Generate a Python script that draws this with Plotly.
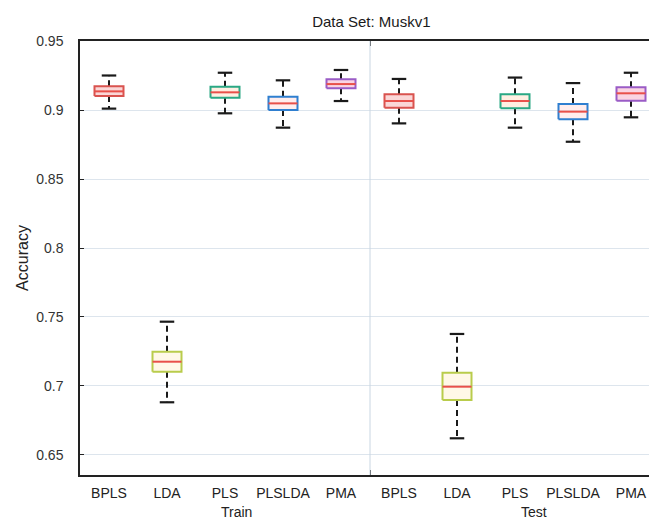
import plotly.graph_objects as go

methods = ["BPLS", "LDA", "PLS", "PLSLDA", "PMA"]
groups = ["Train", "Test"]

# box statistics (upper cap, q3, median, q1, lower cap)
train_upper = [0.9250, 0.7466, 0.9270, 0.9215, 0.9290]
train_q3 = [0.9172, 0.7249, 0.9169, 0.9096, 0.9222]
train_median = [0.9135, 0.7176, 0.9128, 0.9048, 0.9188]
train_q1 = [0.9101, 0.7104, 0.9089, 0.9000, 0.9157]
train_lower = [0.9010, 0.6882, 0.8976, 0.8872, 0.9065]

test_upper = [0.9225, 0.7377, 0.9235, 0.9195, 0.9270]
test_q3 = [0.9114, 0.7096, 0.9114, 0.9043, 0.9164]
test_median = [0.9065, 0.6995, 0.9065, 0.8988, 0.9121]
test_q1 = [0.9017, 0.6899, 0.9012, 0.8933, 0.9067]
test_lower = [0.8903, 0.6621, 0.8872, 0.8770, 0.8947]

y_ticks = [0.65, 0.7, 0.75, 0.8, 0.85, 0.9, 0.95]

edge_colors = {
    "BPLS": "#d9534f",
    "LDA": "#b9cc4c",
    "PLS": "#2aa884",
    "PLSLDA": "#2f7fd0",
    "PMA": "#9a5cc6",
}
fill_colors = {
    "BPLS": "rgba(240,140,140,0.35)",
    "LDA": "rgba(255,235,190,0.35)",
    "PLS": "rgba(255,220,190,0.45)",
    "PLSLDA": "rgba(255,215,215,0.45)",
    "PMA": "rgba(245,160,190,0.45)",
}
median_color = "#e8504a"

half_box = 0.25
half_cap = 0.125

stats = [
    (train_upper, train_q3, train_median, train_q1, train_lower),
    (test_upper, test_q3, test_median, test_q1, test_lower),
]

fig = go.Figure()

pos = 0
tick_pos = []
tick_text = []
for g, (up, q3, med, q1, lo) in zip(groups, stats):
    for i, m in enumerate(methods):
        pos += 1
        tick_pos.append(pos)
        tick_text.append(m)
        # whiskers
        for a, b in [(q3[i], up[i]), (q1[i], lo[i])]:
            fig.add_trace(go.Scatter(
                x=[pos, pos], y=[a, b], mode="lines",
                line=dict(color="#1a1a1a", width=2, dash="6px,4px"),
                hoverinfo="skip", showlegend=False))
        # caps
        for v in [up[i], lo[i]]:
            fig.add_trace(go.Scatter(
                x=[pos - half_cap, pos + half_cap], y=[v, v], mode="lines",
                line=dict(color="#1a1a1a", width=2.2),
                hoverinfo="skip", showlegend=False))
        # box
        fig.add_trace(go.Scatter(
            x=[pos - half_box, pos + half_box, pos + half_box, pos - half_box, pos - half_box],
            y=[q1[i], q1[i], q3[i], q3[i], q1[i]],
            mode="lines", fill="toself", fillcolor=fill_colors[m],
            line=dict(color=edge_colors[m], width=2),
            hoverinfo="skip", showlegend=False))
        # median
        fig.add_trace(go.Scatter(
            x=[pos - half_box, pos + half_box], y=[med[i], med[i]], mode="lines",
            line=dict(color=median_color, width=2),
            hoverinfo="skip", showlegend=False))

n = len(methods)
fig.add_vline(x=n + 0.5, line=dict(color="#c9d6e2", width=1))

fig.add_annotation(x=3.2, y=0, xref="x", yref="paper", yshift=-37, yanchor="middle",
                   text="Train", showarrow=False, font=dict(size=14, color="#222"))
fig.add_annotation(x=8.33, y=0, xref="x", yref="paper", yshift=-37, yanchor="middle",
                   text="Test", showarrow=False, font=dict(size=14, color="#222"))

fig.update_layout(
    width=657, height=524,
    margin=dict(l=72, r=3, t=33, b=57),
    paper_bgcolor="white",
    plot_bgcolor="white",
    font=dict(family="Liberation Sans, Arial, sans-serif", color="#222"),
    title=dict(text="Data Set: Muskv1", x=0.553, xanchor="center", y=0.973,
               yanchor="middle", font=dict(size=15, color="#1a1a1a")),
    xaxis=dict(
        range=[0.5, 2 * n + 0.5],
        tickmode="array", tickvals=tick_pos, ticktext=tick_text,
        showgrid=False, zeroline=False,
        showline=True, linecolor="#222", linewidth=1.5, mirror="ticks",
        ticks="", tickfont=dict(size=14, color="#222"), ticklabelstandoff=4,
        minor=dict(tickvals=[n + 0.5], ticks="inside", ticklen=5,
                   tickcolor="#222", showgrid=False),
    ),
    yaxis=dict(
        range=[0.6355, 0.95],
        tickmode="array", tickvals=y_ticks, ticktext=[f"{v:g}" for v in y_ticks],
        showgrid=True, gridcolor="#dde5ed", gridwidth=1, zeroline=False,
        showline=True, linecolor="#222", linewidth=1.5, mirror="ticks",
        ticks="inside", ticklen=4, tickcolor="#222",
        tickfont=dict(size=14, color="#333"), ticklabelstandoff=12,
        title=dict(text="Accuracy", font=dict(size=16, color="#222"), standoff=4),
    ),
)

fig.write_html("out.html")
